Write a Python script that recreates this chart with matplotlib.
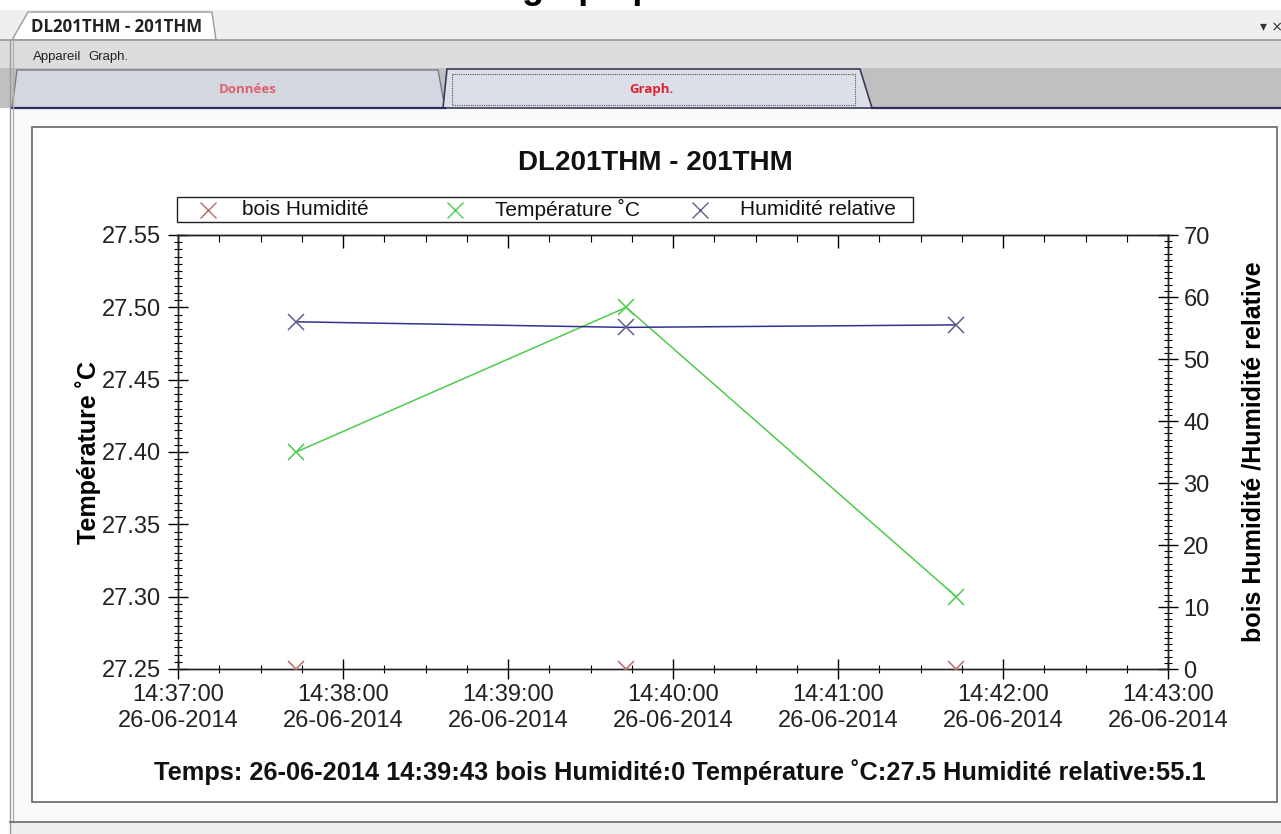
import matplotlib
matplotlib.use("Agg")
import matplotlib.pyplot as plt
import matplotlib.dates as mdates
from matplotlib.patches import Rectangle, Polygon
from matplotlib.ticker import MultipleLocator, FormatStrFormatter, NullFormatter
import pandas as pd

plt.rcParams['font.family'] = ['Liberation Sans', 'DejaVu Sans']

# ---- data -------------------------------------------------------------
times = ["2014-06-26 14:37:43", "2014-06-26 14:39:43", "2014-06-26 14:41:43"]
bois_humidite = [0, 0, 0]
temperature = [27.40, 27.50, 27.30]
humidite_relative = [56.0, 55.1, 55.5]

series_names = ["bois Humidité", "Température ˚C", "Humidité relative"]
title = "DL201THM - 201THM"
left_label = "Température ˚C"
right_label = "bois Humidité /Humidité relative"
status_line = ("Temps: 26-06-2014 14:39:43 bois Humidité:0 "
               "Température ˚C:27.5 Humidité relative:55.1")
x_start, x_end = "2014-06-26 14:37:00", "2014-06-26 14:43:00"

C_BOIS = "#b86a6a"
C_TEMP = "#4ccc4c"
C_HUM_LINE = "#33338f"
C_HUM_MARK = "#5e5e8e"
series_colors = [C_BOIS, C_TEMP, C_HUM_MARK]

W, H = 1281, 834
fig = plt.figure(figsize=(W / 100, H / 100), dpi=100)
UI_FONT = ["Open Sans", "DejaVu Sans"]

# ---- window chrome (pixel coordinates) ---------------------------------
ui = fig.add_axes([0, 0, 1, 1], zorder=0)
ui.set_xlim(0, W)
ui.set_ylim(H, 0)
ui.axis("off")

def rect(x0, y0, x1, y1, **kw):
    ui.add_patch(Rectangle((x0, y0), x1 - x0, y1 - y0, **kw))

rect(0, 0, W, 10, facecolor="white", edgecolor="none")
ui.text(588, -2, "graph p", fontsize=26, fontweight="bold", ha="center",
        va="baseline", color="black", clip_on=True)
rect(0, 10, W, 40, facecolor="#efefef", edgecolor="none")
ui.plot([0, W], [39.5, 39.5], color="#9a9a9a", lw=1.2)
ui.add_patch(Polygon([(12, 40), (28, 12), (212, 12), (216, 40)], closed=True,
                     facecolor="white", edgecolor="#9a9a9a", lw=1))
ui.text(31, 27, "DL201THM - 201THM", fontsize=12.2, fontweight="bold",
        family=UI_FONT, va="center", color="#222222")
ui.text(1260, 27, "▾ ×", fontsize=10, va="center", color="#333333",
        family="DejaVu Sans")
rect(0, 40, W, 68, facecolor="#dddddd", edgecolor="none")
ui.text(33, 57, "Appareil", fontsize=9.5, va="center", color="#222222")
ui.text(88, 57, "Graph.", fontsize=9.5, va="center", color="#222222")
rect(0, 68, W, 108, facecolor="#c0c0c0", edgecolor="none")
ui.add_patch(Polygon([(12, 108), (17, 70), (438, 70), (445, 108)], closed=True,
                     facecolor="#d4d7df", edgecolor="#7a7a8a", lw=1))
ui.text(248, 89, "Données", fontsize=9.5, fontweight="bold", ha="center",
        va="center", color="#e06070", family=UI_FONT)
ui.add_patch(Polygon([(443, 108), (447, 69), (860, 69), (872, 108)], closed=True,
                     facecolor="#dcdfe8", edgecolor="#3a3a5a", lw=1.2))
rect(452, 74, 855, 105, facecolor="none", edgecolor="#555555", lw=0.8,
     linestyle=(0, (1, 1)))
ui.text(651, 89, "Graph.", fontsize=9.5, fontweight="bold", ha="center",
        va="center", color="#e02030", family=UI_FONT)
ui.plot([12, 445], [108, 108], color="#2c2c60", lw=1.6)
ui.plot([872, W], [108, 108], color="#2c2c60", lw=1.6)
rect(13, 109, W, 822, facecolor="#fafafa", edgecolor="none")
ui.plot([9.5, 9.5], [40, H], color="#9a9a9a", lw=1)
ui.plot([12.5, 12.5], [40, 822], color="#b0b0b0", lw=1)
rect(32, 127, 1277, 802, facecolor="white", edgecolor="#666666", lw=1.2)
rect(10, 822, W, H, facecolor="#efefef", edgecolor="none")
ui.plot([10, W], [822, 822], color="#6a6a6a", lw=1.2)

# ---- legend box (pixel coordinates) ---------------------------------------
rect(177, 197, 913, 222, facecolor="white", edgecolor="#222222", lw=1)
for mx, tx, name, col in zip([208, 455, 700], [242, 495, 740],
                             series_names, series_colors):
    ui.plot([mx], [209.5], linestyle="none", marker="x", markersize=11,
            markeredgewidth=1, color=col)
    ui.text(tx, 209.5, name, fontsize=15, va="center", color="#111111")

# ---- chart --------------------------------------------------------------
t = pd.to_datetime(times)
x0, x1 = pd.Timestamp(x_start), pd.Timestamp(x_end)

left, right, top, bottom = 178, 1168, 235, 669
ax = fig.add_axes([left / W, (H - bottom) / H, (right - left) / W,
                   (bottom - top) / H], zorder=2)
ax.set_facecolor("white")
ax2 = ax.twinx()

ax.plot(t, temperature, color=C_TEMP, lw=1.1, marker="x", markersize=11,
        markeredgewidth=1.1, zorder=3)
ax2.plot(t, humidite_relative, color=C_HUM_LINE, lw=1.1, zorder=3)
ax2.plot(t, humidite_relative, linestyle="none", marker="x", markersize=11,
         markeredgewidth=1.1, color=C_HUM_MARK, zorder=4)
ax2.plot(t, bois_humidite, linestyle="none", marker="x", markersize=11,
         markeredgewidth=1.1, color=C_BOIS, zorder=4)

ax.set_xlim(x0, x1)
ax.set_ylim(27.25, 27.55)
ax2.set_ylim(0, 70)

ax.xaxis.set_major_locator(mdates.MinuteLocator())
ax.xaxis.set_minor_locator(mdates.SecondLocator(bysecond=[15, 30, 45]))
ax.xaxis.set_major_formatter(mdates.DateFormatter("%H:%M:%S\n%d-%m-%Y"))
ax.yaxis.set_major_locator(MultipleLocator(0.05))
ax.yaxis.set_minor_locator(MultipleLocator(0.005))
ax.yaxis.set_major_formatter(FormatStrFormatter("%.2f"))
ax2.yaxis.set_major_locator(MultipleLocator(10))
ax2.yaxis.set_minor_locator(MultipleLocator(1))

TICK_FS = 17
for a in (ax, ax2):
    a.tick_params(which="major", direction="inout", length=14, width=1,
                  color="black", labelsize=TICK_FS, labelcolor="#222222")
    a.tick_params(which="minor", direction="inout", length=6, width=0.8,
                  color="black")
    for s in a.spines.values():
        s.set_linewidth(1)
        s.set_color("#222222")
ax.tick_params(axis="x", which="major", pad=4)
ax.tick_params(axis="y", pad=5)
ax2.tick_params(axis="y", pad=4)

# mirrored time ticks on the top edge, pointing inward
top_ax = ax.secondary_xaxis("top")
top_ax.xaxis.set_major_locator(mdates.MinuteLocator())
top_ax.xaxis.set_minor_locator(mdates.SecondLocator(bysecond=[15, 30, 45]))
top_ax.tick_params(which="major", direction="in", length=9, width=1,
                   labeltop=False)
top_ax.tick_params(which="minor", direction="in", length=5, width=0.8)
top_ax.xaxis.set_major_formatter(NullFormatter())

ax.set_ylabel(left_label, fontsize=18, fontweight="bold", labelpad=1)
ax2.set_ylabel(right_label, fontsize=18, fontweight="bold", labelpad=23)

fig.text(655 / W, 1 - 163 / H, title, fontsize=20, fontweight="bold",
         ha="center", va="center", color="#111111")
fig.text(680 / W, 1 - 772 / H, status_line, fontsize=18.3, fontweight="bold",
         ha="center", va="center", color="#111111")

fig.savefig("out.png", dpi=100)
